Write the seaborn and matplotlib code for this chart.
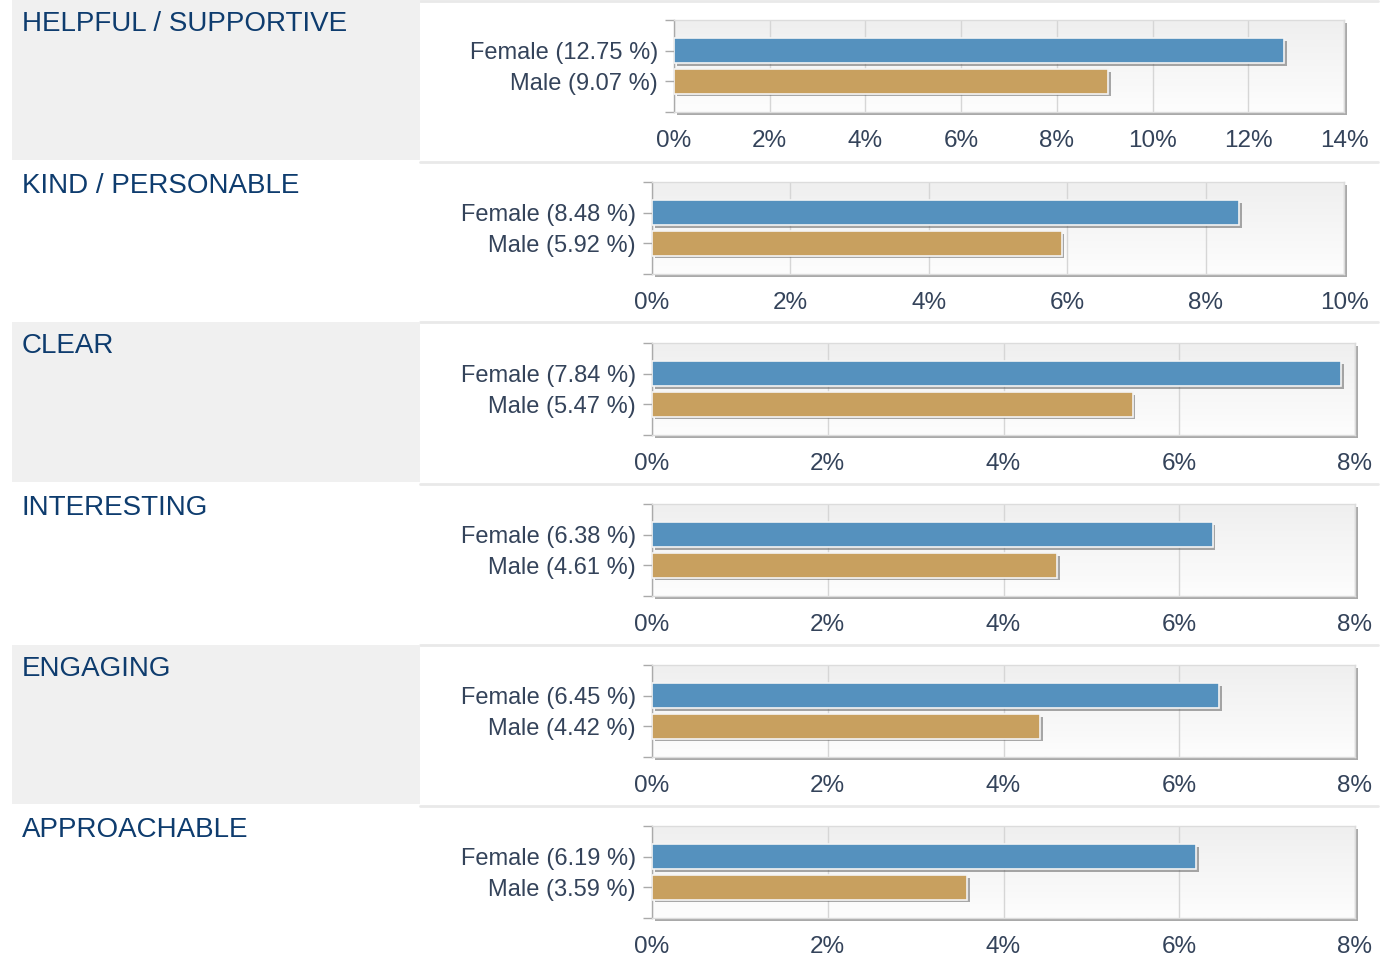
import numpy as np
import seaborn as sns
import matplotlib
matplotlib.use("Agg")
from matplotlib import pyplot as plt
from matplotlib import patheffects as pe
from matplotlib.patches import Rectangle
from matplotlib.lines import Line2D

categories = ["HELPFUL / SUPPORTIVE", "KIND / PERSONABLE", "CLEAR",
              "INTERESTING", "ENGAGING", "APPROACHABLE"]
female = [12.75, 8.48, 7.84, 6.38, 6.45, 6.19]
male = [9.07, 5.92, 5.47, 4.61, 4.42, 3.59]
x_max = [14, 10, 8, 8, 8, 8]

blue = "#5591be"
tan = "#c8a05f"
title_color = "#0e3c6e"
label_color = "#34435a"

W, H = 1388, 960
sns.set_theme(style="white")
plt.rcParams["font.family"] = ["Liberation Sans", "DejaVu Sans"]

fig = plt.figure(figsize=(W / 100, H / 100), dpi=100)
fig.patch.set_facecolor("white")

# row bands (pixels) and axes boxes (left, right, top, bottom)
row_tops = [0, 162, 322, 484, 645, 806, 960]
boxes = [(674, 1344, 20, 112), (652, 1344, 182, 274), (652, 1355, 343, 435),
         (652, 1355, 504, 596), (652, 1355, 665, 757), (652, 1355, 826, 918)]


def fx(x):
    return x / W


def fy(y):
    return 1 - y / H


for i in range(6):
    top, bot = row_tops[i], row_tops[i + 1]
    if i % 2 == 0:
        fig.patches.append(Rectangle((fx(12), fy(bot - 2)), fx(408), (bot - 2 - top) / H,
                                     transform=fig.transFigure, facecolor="#f0f0f0",
                                     edgecolor="none", zorder=0))
    fig.text(fx(22), fy(top + 11), categories[i], color=title_color, fontsize=20,
             ha="left", va="top")
for y in row_tops[:-1]:
    yy = max(y, 1)
    fig.lines.append(Line2D([fx(420), fx(1378)], [fy(yy), fy(yy)], transform=fig.transFigure,
                            color="#e9e9e9", lw=2, zorder=0))

grad = np.linspace(0, 1, 50).reshape(-1, 1)
gmap = matplotlib.colors.LinearSegmentedColormap.from_list("g", ["#fdfdfd", "#efefef"])
shadow = [pe.SimplePatchShadow(offset=(2, -2), shadow_rgbFace="#555555", alpha=0.5), pe.Normal()]

for i in range(6):
    l, r, t, b = boxes[i]
    ax = fig.add_axes([fx(l), fy(b), (r - l) / W, (b - t) / H])
    labels = [f"Female ({female[i]:.2f} %)", f"Male ({male[i]:.2f} %)"]
    ax.imshow(grad, extent=(0, 1, 0, 1), transform=ax.transAxes, aspect="auto",
              cmap=gmap, origin="lower", zorder=0)
    sns.barplot(x=[female[i], male[i]], y=labels, hue=labels, palette=[blue, tan],
                legend=False, ax=ax, width=0.8, saturation=1, edgecolor="#f4f4f4",
                linewidth=1.2, zorder=3)
    for p in ax.patches:
        p.set_path_effects(shadow)
    ax.set_xlim(0, x_max[i])
    ax.set_ylim(2, -1)
    ax.set_xticks(np.arange(0, x_max[i] + 1, 2))
    ax.set_xticklabels([f"{v}%" for v in range(0, x_max[i] + 1, 2)])
    ax.set_yticks([-1, 2], minor=True)
    ax.grid(axis="x", color="#d6d6d6", lw=1, zorder=1)
    ax.set_axisbelow(True)
    ax.set_xlabel("")
    ax.set_ylabel("")
    for s in ["top", "right", "bottom"]:
        ax.spines[s].set_color("#dcdcdc")
        ax.spines[s].set_linewidth(1)
    ax.spines["left"].set_color("#aaaaaa")
    ax.spines["left"].set_linewidth(1)
    ax.patch.set_path_effects(shadow)
    ax.tick_params(axis="x", length=0, pad=13, labelsize=17.5, labelcolor=label_color)
    ax.tick_params(axis="y", which="both", length=6.5, width=1, color="#aaaaaa", pad=5,
                   labelsize=17, labelcolor=label_color, left=True)

fig.savefig("out.png", dpi=100, facecolor="white")
